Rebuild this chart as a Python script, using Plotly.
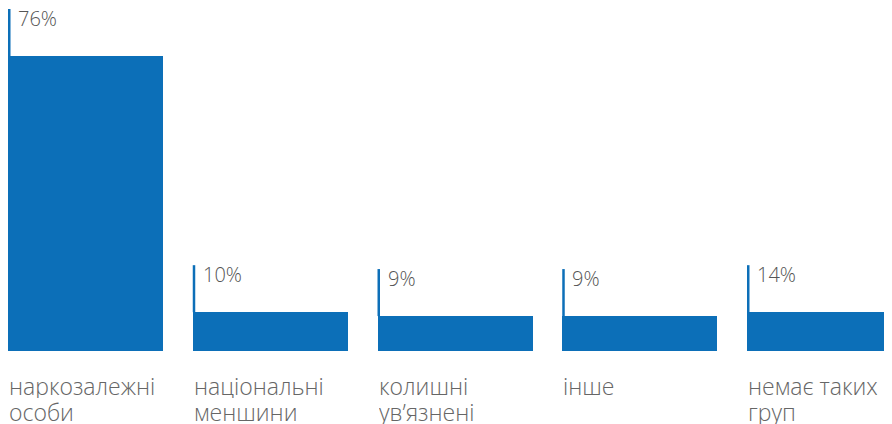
import plotly.graph_objects as go

categories = ["наркозалежні<br>особи", "національні<br>меншини", "колишні<br>ув’язнені", "інше", "немає таких<br>груп"]
share_labels = ["76%", "10%", "9%", "9%", "14%"]
# bar heights as drawn in the picture (last bar is drawn at the same height as the 10% bar)
bar_heights = [76, 10, 9, 9, 10]

BLUE = "#0c6fb8"
FONT = "Open Sans"
x = list(range(len(categories)))
bar_w = 0.839
px_per_unit_y = 295 / 76  # pixel scale of the y axis
line_len = 47 / px_per_unit_y

fig = go.Figure()
fig.add_trace(go.Bar(x=x, y=bar_heights, width=bar_w, marker=dict(color=BLUE, line=dict(width=0)),
                     hoverinfo="skip"))

for i, (h, lab, cat) in enumerate(zip(bar_heights, share_labels, categories)):
    left = i - bar_w / 2
    fig.add_shape(type="line", x0=left + 0.0068, x1=left + 0.0068, y0=h, y1=h + line_len,
                  line=dict(color=BLUE, width=2.5), layer="below")
    fig.add_annotation(x=left, y=h + line_len, text=lab, showarrow=False, xanchor="left", yanchor="middle",
                       xshift=9, yshift=-9, height=22, borderpad=0,
                       font=dict(family=FONT, size=20, color="#555555", weight=300))
    for j, part in enumerate(cat.split("<br>")):
        fig.add_annotation(x=left, y=0, text=part, showarrow=False, xanchor="left", yanchor="middle",
                           align="left", xshift=0, yshift=-34 - 26 * j, height=25, borderpad=0,
                           font=dict(family=FONT, size=23, color="#666666", weight=300))

fig.update_layout(
    width=884, height=416,
    margin=dict(l=0, r=0, t=0, b=73),
    plot_bgcolor="white", paper_bgcolor="white",
    showlegend=False, bargap=0,
    xaxis=dict(range=[-0.4195, 4.3654], showgrid=False, zeroline=False, showticklabels=False,
               showline=False, ticks=""),
    yaxis=dict(range=[0, 343 / px_per_unit_y], showgrid=False, zeroline=False, showticklabels=False,
               showline=False, ticks=""),
)

fig.write_html("out.html", post_script="document.documentElement.style.overflow='hidden';document.body.style.overflow='hidden';")
